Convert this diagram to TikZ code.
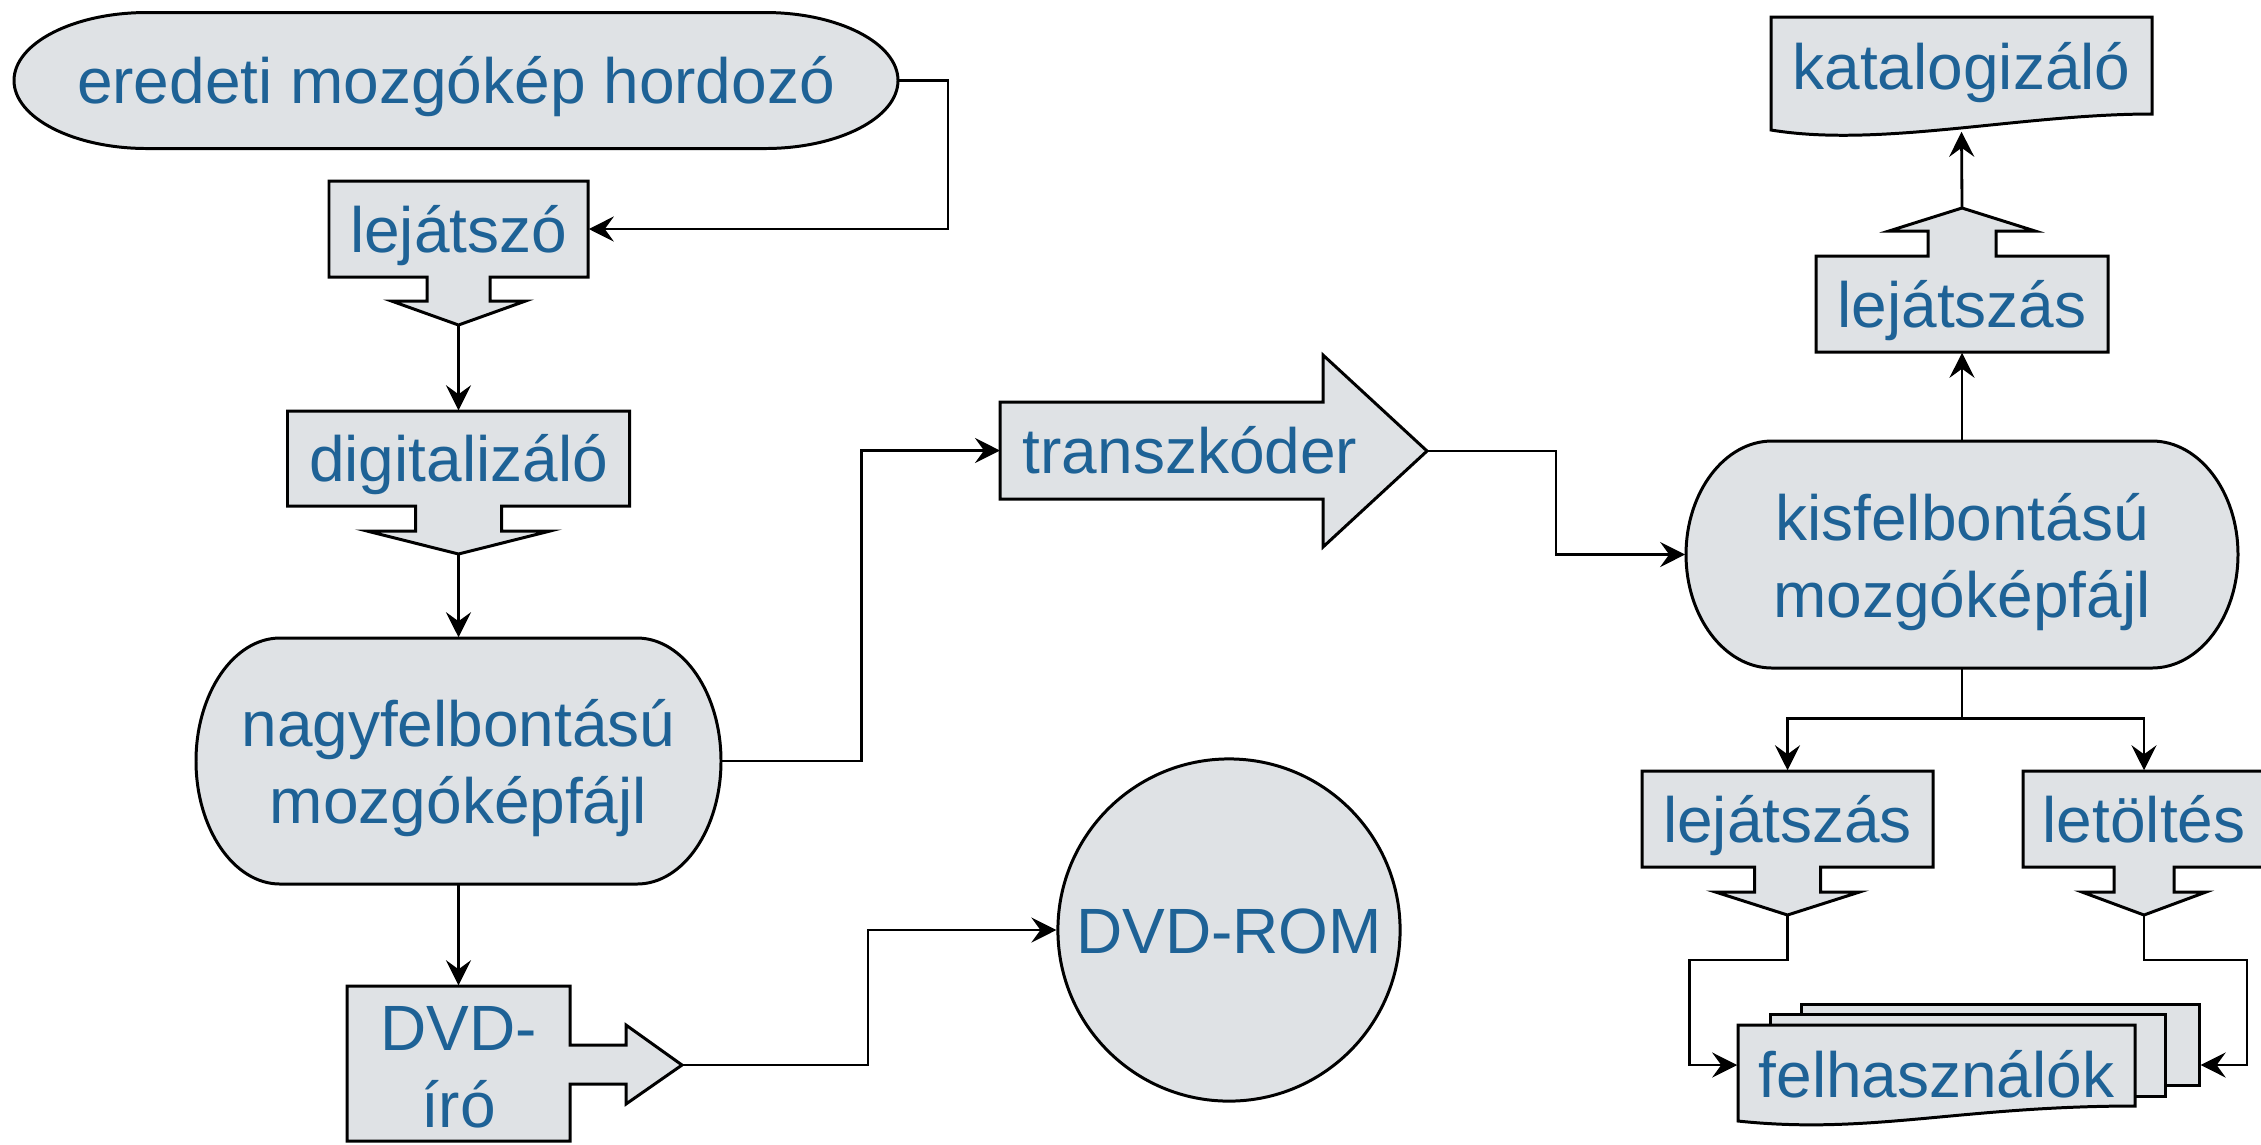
\documentclass[tikz,border=0pt]{standalone}
\usepackage{fontspec}
\setmainfont{Liberation Sans}
\usetikzlibrary{arrows.meta}

\definecolor{boxgray}{RGB}{223,226,229}
\definecolor{textblue}{RGB}{30,98,150}

\tikzset{
  part/.style={draw=black, fill=boxgray, line width=0.85pt, line join=miter},
  lbl/.style={text=textblue, font=\fontsize{18.2}{21.8}\selectfont, inner sep=0pt,
    text height=0.46cm, text depth=0pt},
  lbl2/.style={text=textblue, font=\fontsize{18.2}{21.8}\selectfont, inner sep=0pt,
    align=center, text height=1.25cm, text depth=0pt},
  link/.style={line width=0.8pt, -{Stealth[length=2.5mm, width=2.5mm, inset=0.9mm]}},
}

% rounded terminal: centre x, centre y, half width, half height, end radius
\newcommand{\termshape}[5]{%
  \draw[part] ({#1-#3+#5},{#2-#4}) -- ({#1+#3-#5},{#2-#4})
    .. controls ({#1+#3-0.45*#5},{#2-#4}) and ({#1+#3},{#2-0.55*#4}) .. ({#1+#3},#2)
    .. controls ({#1+#3},{#2+0.55*#4}) and ({#1+#3-0.45*#5},{#2+#4}) .. ({#1+#3-#5},{#2+#4})
    -- ({#1-#3+#5},{#2+#4})
    .. controls ({#1-#3+0.45*#5},{#2+#4}) and ({#1-#3},{#2+0.55*#4}) .. ({#1-#3},#2)
    .. controls ({#1-#3},{#2-0.55*#4}) and ({#1-#3+0.45*#5},{#2-#4}) .. cycle;}

% box with block arrow: x1, x2, far edge y, arrow edge y, stem half, stem end, wing half, tip
\newcommand{\arrowbox}[8]{%
  \draw[part] (#1,#3) -- (#2,#3) -- (#2,#4) -- ({(#1+#2)/2+#5},#4) -- ({(#1+#2)/2+#5},#6)
    -- ({(#1+#2)/2+#7},#6) -- ({(#1+#2)/2},#8) -- ({(#1+#2)/2-#7},#6)
    -- ({(#1+#2)/2-#5},#6) -- ({(#1+#2)/2-#5},#4) -- (#1,#4) -- cycle;}

\begin{document}
\begin{tikzpicture}[x=0.01cm, y=-0.01cm]
  \useasboundingbox (0,0) rectangle (2261,1144);

  % shapes
  \termshape{456}{80.5}{442}{68}{133}
  \arrowbox{329}{588}{181}{277}{31.5}{301}{67}{325}
  \arrowbox{287.5}{629.5}{411}{506}{43}{531}{91.5}{554}
  \termshape{458.5}{761}{262.5}{123}{84}
  \draw[part] (347,1141) -- (347,986) -- (570,986) -- (570,1045) -- (626,1045) -- (626,1025)
    -- (682,1065) -- (626,1104) -- (626,1084) -- (570,1084) -- (570,1141) -- cycle;
  \draw[part] (1000,402) -- (1323,402) -- (1323,355) -- (1427,451) -- (1323,547)
    -- (1323,499) -- (1000,499) -- cycle;
  \termshape{1962}{554.5}{276}{113.5}{86}
  \arrowbox{1816}{2108}{352}{256}{34}{231}{73}{208}
  \draw[part] (1771,17) -- (2152,17) -- (2152,114)
    .. controls (2020,114) and (1880,148) .. (1771,130) -- cycle;
  \arrowbox{1642}{1933}{771}{867}{33}{892}{72}{915}
  \arrowbox{2023}{2265}{771}{867}{30}{892}{62}{915}
  \node[part, minimum width=3.97cm, minimum height=0.81cm] (users3) at (2000.5,1044.5) {};
  \node[part, minimum width=3.94cm, minimum height=0.82cm] (users2) at (1968,1055) {};
  \draw[part] (1738,1025) -- (2135,1025) -- (2135,1106)
    .. controls (1960,1106) and (1870,1135) .. (1738,1121) -- cycle;

  % nodes
  \node[lbl, minimum width=8.84cm, minimum height=1.36cm] (hordozo) at (456,80.5) {eredeti mozgókép hordozó};
  \node[lbl, minimum width=2.59cm, minimum height=0.96cm] (lejatszo) at (458.5,229) {lejátszó};
  \node[lbl, minimum width=3.42cm, minimum height=0.95cm] (digit) at (458.5,458.5) {digitalizáló};
  \node[lbl2, minimum width=5.25cm, minimum height=2.46cm] (nagy) at (458.5,761) {nagyfelbontású\\mozgóképfájl};
  \node[lbl2, text height=1.27cm, minimum width=2.23cm, minimum height=1.55cm] (iro) at (458.5,1063.5) {DVD-\\író};
  \node[part, lbl, circle, minimum size=3.42cm] (dvdrom) at (1229,930) {DVD-ROM};
  \node[lbl, anchor=west, inner xsep=0.22cm, minimum height=0.97cm] (transz) at (1000,450.5) {transzkóder};
  \node[lbl2, minimum width=5.52cm, minimum height=2.27cm] (kis) at (1962,554.5) {kisfelbontású\\mozgóképfájl};
  \node[lbl, minimum width=2.92cm, minimum height=0.96cm] (play) at (1962,304) {lejátszás};
  \node[lbl, minimum width=3.81cm, minimum height=1.29cm] (katalog) at (1961.5,66.5) {katalogizáló};
  \node[lbl, minimum width=2.91cm, minimum height=0.96cm] (play2) at (1787.5,819) {lejátszás};
  \node[lbl, minimum width=2.42cm, minimum height=0.96cm] (load) at (2144,819) {letöltés};
  \node[lbl, text height=0.64cm, minimum width=3.97cm, minimum height=0.81cm] (users) at (1936.5,1065) {felhasználók};

  \coordinate (lejatszo-tip) at (458.5,325);
  \coordinate (digit-tip) at (458.5,554);
  \coordinate (iro-tip) at (682,1065);
  \coordinate (transz-tip) at (1427,451);
  \coordinate (play-tip) at (1962,208);
  \coordinate (play2-tip) at (1787.5,915);
  \coordinate (load-tip) at (2144,915);

  % lines
  \draw[link] (hordozo.east) -- ++(49,0) |- (lejatszo.east);
  \draw[link] (lejatszo-tip) -- (digit.north);
  \draw[link] (digit-tip) -- (nagy.north);
  \draw[link] (nagy.south) -- (iro.north);
  \draw[link] (nagy.east) -- ++(140,0) |- (transz.west);
  \draw[link] (iro-tip) -- ++(186,0) |- (dvdrom.west);
  \draw[link] (transz-tip) -- ++(129,0) |- (kis.west);
  \draw[link] (kis.north) -- (play.south);
  \draw[link] (play-tip) -- (katalog.south);
  \draw[link] (kis.south) -- ++(0,50) -| (play2.north);
  \draw[link] (kis.south) -- ++(0,50) -| (load.north);
  \draw[link] (play2-tip) -- ++(0,45) -- ++(-98,0) |- (users.west);
  \draw[link] (load-tip) -- ++(0,45) -- ++(103,0) |- (users3.east |- users.west);
\end{tikzpicture}
\end{document}
